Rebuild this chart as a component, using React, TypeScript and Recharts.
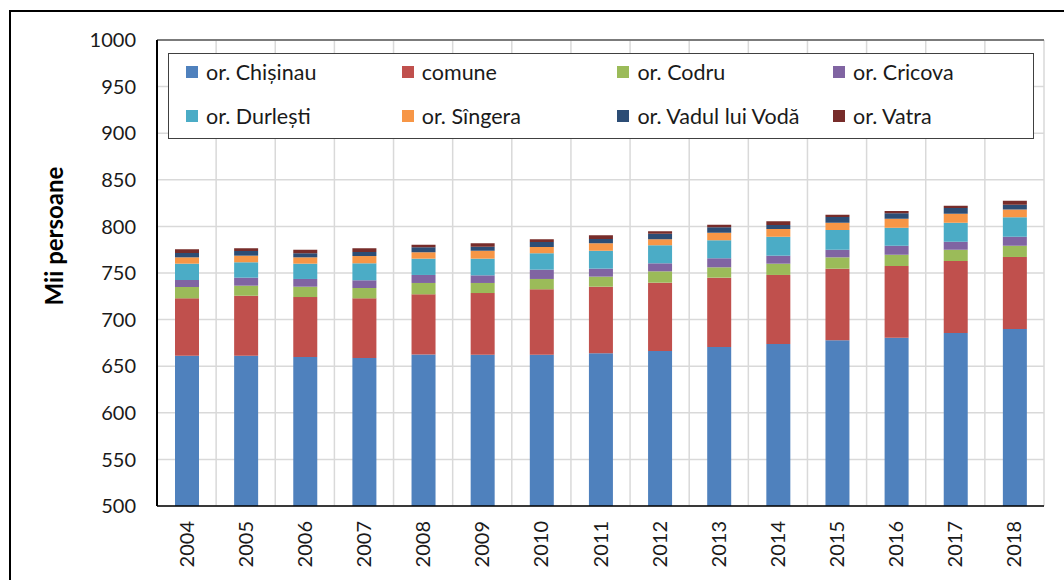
import {
  Bar,
  BarChart,
  CartesianGrid,
  Label,
  Legend,
  ReferenceLine,
  XAxis,
  YAxis,
} from "recharts";

const years = ["2004", "2005", "2006", "2007", "2008", "2009", "2010", "2011", "2012", "2013", "2014", "2015", "2016", "2017", "2018"];

const chisinau = [661.3, 661.3, 659.9, 658.8, 662.6, 662.4, 662.4, 663.8, 666.3, 670.6, 673.8, 677.8, 680.6, 685.6, 689.9];
const comune = [61.5, 64.3, 64.3, 64.0, 64.5, 66.1, 70.1, 71.5, 73.3, 74.4, 74.1, 76.8, 76.9, 77.3, 77.3];
const codru = [12.2, 10.8, 11.1, 11.1, 12.2, 10.8, 11.1, 10.8, 12.2, 11.1, 12.1, 12.2, 12.1, 12.1, 12.1];
const cricova = [7.5, 8.6, 8.3, 8.3, 8.6, 8.2, 10.0, 8.6, 8.6, 9.7, 8.6, 8.2, 9.7, 8.6, 9.6];
const durlesti = [17.5, 16.5, 16.4, 18.2, 17.5, 17.9, 17.5, 19.3, 19.3, 19.3, 20.3, 21.1, 19.3, 20.4, 20.9];
const singera = [6.8, 7.1, 6.8, 7.8, 6.8, 8.6, 6.8, 7.9, 6.5, 8.1, 8.3, 7.9, 9.7, 9.7, 8.2];
const vadul = [4.7, 5.0, 4.3, 4.3, 5.4, 4.2, 5.4, 4.6, 6.0, 5.8, 4.3, 6.0, 5.7, 6.0, 5.3];
const vatra = [3.9, 2.9, 3.9, 4.0, 2.8, 3.7, 2.9, 3.9, 2.5, 2.8, 4.0, 2.5, 2.5, 2.5, 4.3];

const yTicks = [500, 550, 600, 650, 700, 750, 800, 850, 900, 950, 1000];

const series = [
  { key: "chisinau", name: "or. Chișinau", color: "#4F81BD", values: chisinau },
  { key: "comune", name: "comune", color: "#C0504D", values: comune },
  { key: "codru", name: "or. Codru", color: "#9BBB59", values: codru },
  { key: "cricova", name: "or. Cricova", color: "#8064A2", values: cricova },
  { key: "durlesti", name: "or. Durlești", color: "#4BACC6", values: durlesti },
  { key: "singera", name: "or. Sîngera", color: "#F79646", values: singera },
  { key: "vadul", name: "or. Vadul lui Vodă", color: "#2C4D75", values: vadul },
  { key: "vatra", name: "or. Vatra", color: "#772C2A", values: vatra },
];

const data = years.map((year, i) => {
  const row: Record<string, string | number> = { year };
  series.forEach((s) => {
    row[s.key] = s.values[i];
  });
  return row;
});

const textColor = "#1a1a1a";

function YearTick({ x, y, payload }: any) {
  return (
    <text
      transform={`translate(${x + 7},${y + 15}) rotate(-90)`}
      textAnchor="end"
      fill={textColor}
      fontSize={20}
    >
      {payload.value}
    </text>
  );
}

function LegendBox({ payload }: any) {
  const items = [...(payload ?? [])].sort(
    (a, b) =>
      series.findIndex((s) => s.key === a.dataKey) - series.findIndex((s) => s.key === b.dataKey),
  );
  return (
    <div
      style={{
        position: "relative",
        width: "100%",
        height: "100%",
        boxSizing: "border-box",
        border: "1.5px solid #404040",
        background: "#fff",
      }}
    >
      {items.map((item, i) => (
        <div
          key={String(item.dataKey)}
          style={{
            position: "absolute",
            left: 17 + (i % 4) * 215.7,
            top: 6 + Math.floor(i / 4) * 44,
            height: 24,
            display: "flex",
            alignItems: "center",
            whiteSpace: "nowrap",
            fontSize: 21.5,
            color: textColor,
          }}
        >
          <span style={{ width: 12, height: 12, background: item.color, marginRight: 8 }} />
          {item.value}
        </div>
      ))}
    </div>
  );
}

export default function App() {
  return (
    <div
      style={{
        position: "absolute",
        left: 0,
        top: 0,
        width: 1064,
        height: 580,
        overflow: "hidden",
        background: "#fff",
        fontFamily: "Lato, sans-serif",
      }}
    >
      <div
        style={{
          position: "absolute",
          left: 9,
          top: 10,
          width: 1100,
          height: 640,
          border: "2px solid #000",
        }}
      />
      <div style={{ position: "absolute", left: 0, top: 0 }}>
        <BarChart
          width={1064}
          height={580}
          data={data}
          margin={{ top: 40, right: 20, bottom: 0, left: 80 }}
        >
          <CartesianGrid
            stroke="#D9D9D9"
            strokeWidth={1.5}
            verticalCoordinatesGenerator={({ offset }: any) =>
              Array.from({ length: years.length + 1 }, (_, i) => offset.left + (i * offset.width) / years.length)
            }
          />
          <XAxis
            dataKey="year"
            height={74}
            tickLine={false}
            tickSize={0}
            tickMargin={0}
            interval={0}
            axisLine={{ stroke: "#000", strokeWidth: 1.5 }}
            tick={<YearTick />}
          />
          <YAxis
            domain={[500, 1000]}
            ticks={yTicks}
            allowDataOverflow
            width={77}
            tickLine={false}
            tickSize={0}
            tickMargin={21}
            axisLine={{ stroke: "#000", strokeWidth: 2 }}
            tick={{ fill: textColor, fontSize: 20 }}
          >
            <Label
              content={({ viewBox }: any) => (
                <text
                  transform={`translate(${viewBox.x - 17},${viewBox.y + viewBox.height / 2 - 37}) rotate(-90)`}
                  textAnchor="middle"
                  fontWeight={700}
                  fontSize={24}
                  fill="#000"
                >
                  Mii persoane
                </text>
              )}
            />
          </YAxis>
          <YAxis
            yAxisId="right"
            orientation="right"
            domain={[500, 1000]}
            width={0}
            tick={false}
            tickLine={false}
            axisLine={{ stroke: "#595959", strokeWidth: 1.5 }}
          />
          <ReferenceLine y={1000} stroke="#595959" strokeWidth={1.5} />
          <Legend
            layout="horizontal"
            verticalAlign="middle"
            align="center"
            content={<LegendBox />}
            wrapperStyle={{ position: "absolute", left: 168, top: 53, width: 866, height: 86 }}
          />
          {series.map((s) => (
            <Bar
              key={s.key}
              dataKey={s.key}
              name={s.name}
              stackId="total"
              fill={s.color}
              barSize={24}
              isAnimationActive={false}
            />
          ))}
        </BarChart>
      </div>
    </div>
  );
}
